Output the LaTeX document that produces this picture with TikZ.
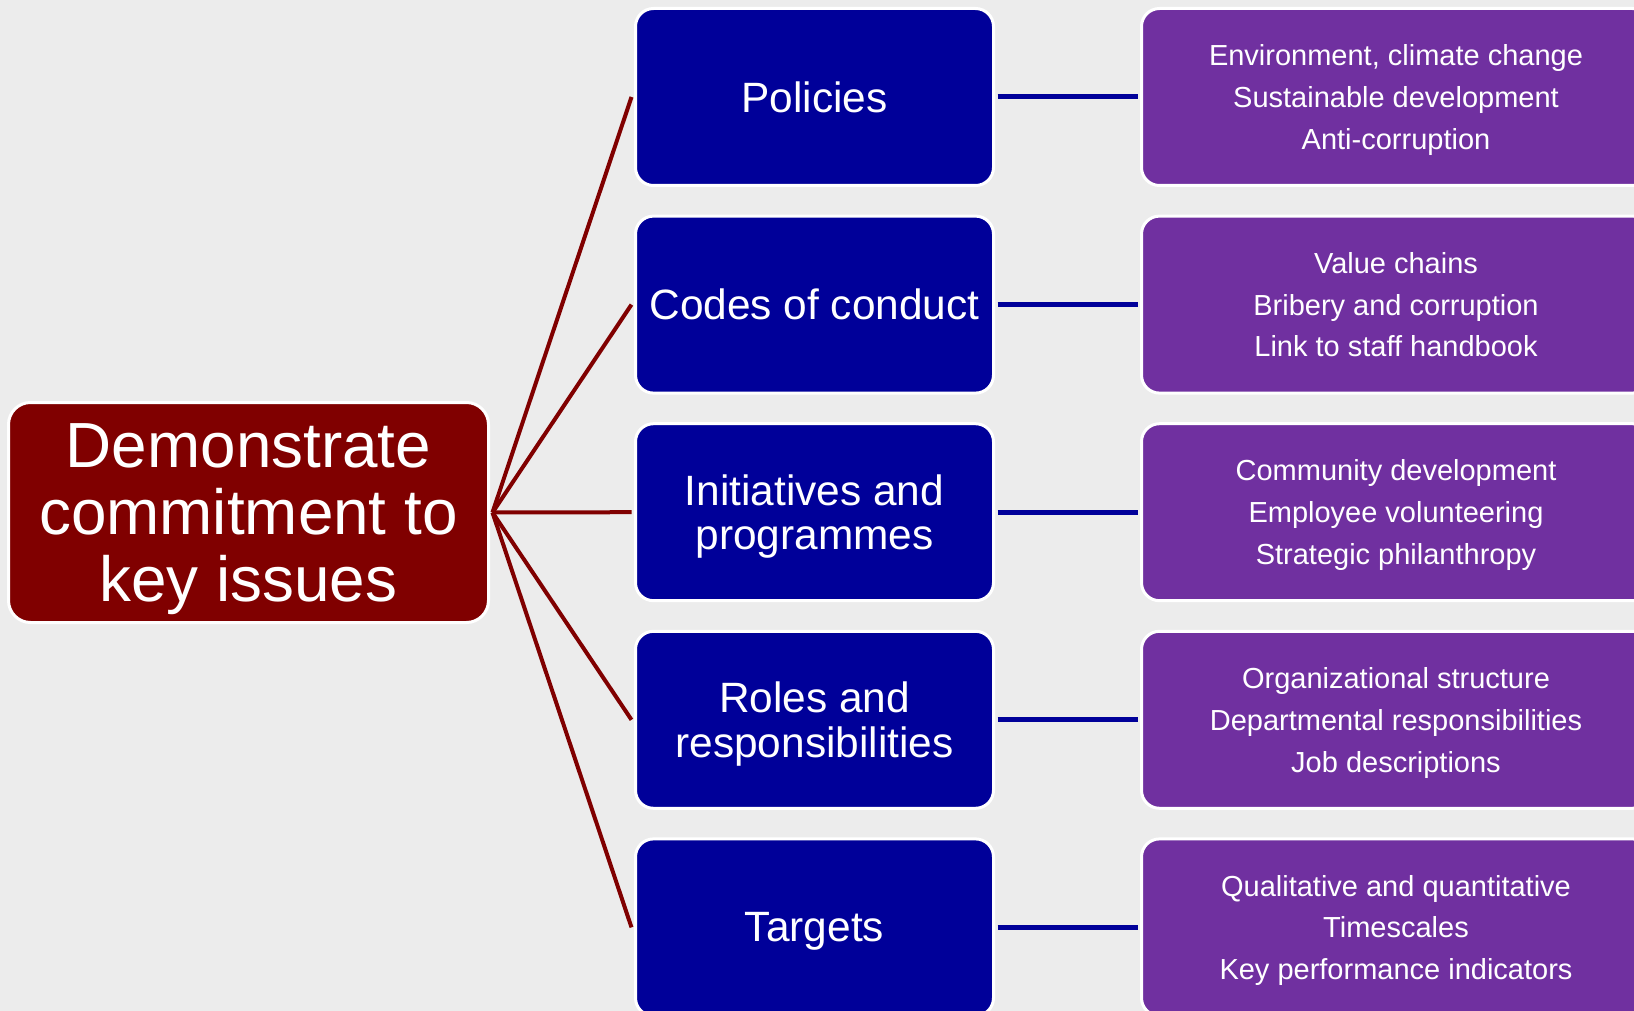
\documentclass[tikz,border=0pt]{standalone}
\usepackage{fontspec}
\setmainfont{Liberation Sans}
\usepackage{tikz}
\usetikzlibrary{positioning}
\definecolor{hubred}{RGB}{128,0,0}
\definecolor{topicblue}{RGB}{0,0,153}
\definecolor{detailpurple}{RGB}{112,48,160}
\definecolor{paper}{RGB}{236,236,236}

\begin{document}
\begin{tikzpicture}[
			x = 0.5pt, y = -0.5pt,
			box/.style = {rectangle, draw = white, line width = 1.5pt, text = white, align = center, text depth = 0pt, inner sep = 0pt, outer sep = 2pt},
			hub/.style = {box, fill = hubred, rounded corners = 11pt, minimum width = 240pt, minimum height = 110pt, font = \fontsize{31.9}{33.3}\selectfont},
			topic/.style = {box, fill = topicblue, rounded corners = 9pt, minimum width = 179pt, minimum height = 88.5pt, font = \fontsize{21.2}{22.3}\selectfont},
			detail/.style = {box, fill = detailpurple, rounded corners = 9pt, minimum width = 254.5pt, minimum height = 88.5pt, font = \fontsize{14.5}{20.9}\selectfont},
			spoke/.style = {draw = hubred, line width = 2pt},
			link/.style = {draw = topicblue, line width = 2.5pt}]

			\useasboundingbox (0,0) rectangle (1634,1011);
			\fill[paper] (0,0) rectangle (1634,1011);
			\clip (0,0) rectangle (1634,1011);

			\node[hub] (commit) at (248.5,512.5) {Demonstrate\\commitment to\\key issues};

			\node[topic] (policies) at (814.5,97) {Policies};
			\node[topic] (codes) at (814.5,304.6) {Codes of conduct};
			\node[topic] (initiatives) at (814.5,512.2) {Initiatives and\\programmes};
			\node[topic] (roles) at (814.5,719.8) {Roles and\\responsibilities};
			\node[topic] (targets) at (814.5,927.4) {Targets};

			\node[detail] (policiesd) at (1396,97) {Environment, climate change\\Sustainable development\\Anti-corruption};
			\node[detail] (codesd) at (1396,304.6) {Value chains\\Bribery and corruption\\Link to staff handbook};
			\node[detail] (initiativesd) at (1396,512.2) {Community development\\Employee volunteering\\Strategic philanthropy};
			\node[detail] (rolesd) at (1396,719.8) {Organizational structure\\Departmental responsibilities\\Job descriptions};
			\node[detail] (targetsd) at (1396,927.4) {Qualitative and quantitative\\Timescales\\Key performance indicators};

			% spokes from the hub
			\draw[spoke] (commit.east) -- (policies.west);
			\draw[spoke] (commit.east) -- (codes.west);
			\draw[spoke] (commit.east) -- (initiatives.west);
			\draw[spoke] (commit.east) -- (roles.west);
			\draw[spoke] (commit.east) -- (targets.west);

			% topic to detail
			\draw[link] (policies.east) -- (policiesd.west);
			\draw[link] (codes.east) -- (codesd.west);
			\draw[link] (initiatives.east) -- (initiativesd.west);
			\draw[link] (roles.east) -- (rolesd.west);
			\draw[link] (targets.east) -- (targetsd.west);

		\end{tikzpicture}
\end{document}
